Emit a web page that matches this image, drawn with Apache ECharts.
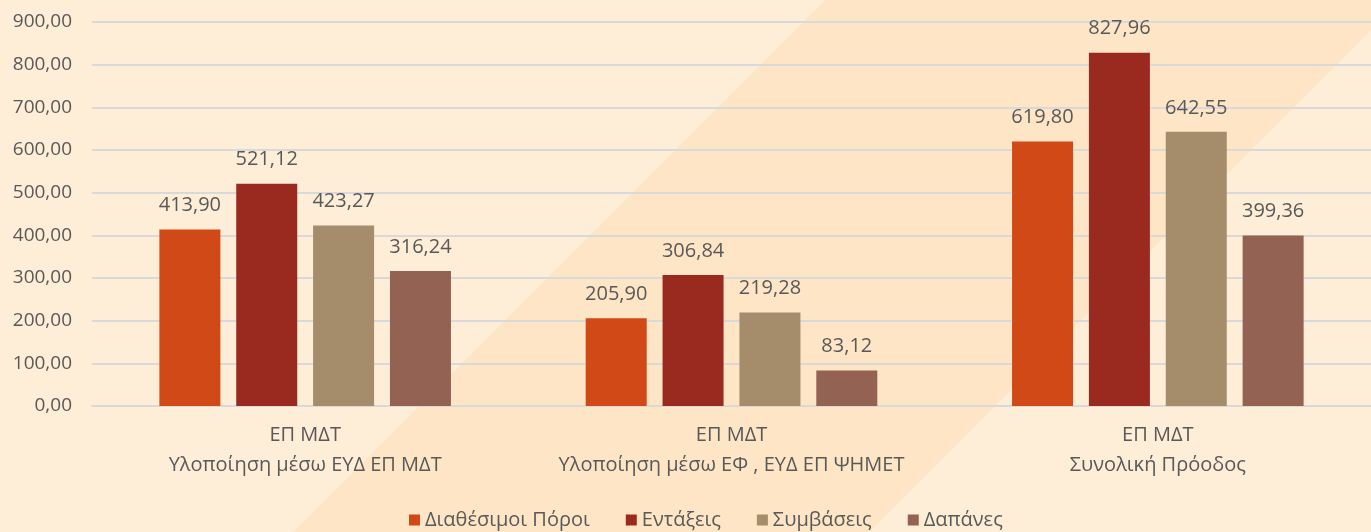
<!DOCTYPE html>
<html>
<head>
<meta charset="utf-8">
<script src="https://cdn.jsdelivr.net/npm/echarts@6/dist/echarts.min.js"></script>
<style>
  html, body { margin: 0; padding: 0; }
  #chart { width: 1371px; height: 532px; }
</style>
</head>
<body>
<div id="chart"></div>
<script>
const categories = [
  'ΕΠ ΜΔΤ\nΥλοποίηση μέσω ΕΥΔ ΕΠ ΜΔΤ',
  'ΕΠ ΜΔΤ\nΥλοποίηση μέσω ΕΦ , ΕΥΔ ΕΠ ΨΗΜΕΤ',
  'ΕΠ ΜΔΤ\nΣυνολική Πρόοδος'
];
const seriesNames = ['Διαθέσιμοι Πόροι', 'Εντάξεις', 'Συμβάσεις', 'Δαπάνες'];
const diathesimoi = [413.90, 205.90, 619.80];
const entaxeis = [521.12, 306.84, 827.96];
const symvaseis = [423.27, 219.28, 642.55];
const dapanes = [316.24, 83.12, 399.36];
const colors = ['#D14917', '#9A2A1F', '#A58C6A', '#946252'];

const fmt = v => v.toFixed(2).replace('.', ',');
const font = '"Open Sans", "Noto Sans", sans-serif';

// diagonal bands in the background, x + y between 826 and 1402 is darker
const light = '#FEEDD7', dark = '#FDE5C6';
const a = 826 / 1903, b = 1402 / 1903;

const chart = echarts.init(document.getElementById('chart'));
const option = {
  backgroundColor: {
    type: 'linear', global: true,
    x: 0, y: 0, x2: 951.5, y2: 951.5,
    colorStops: [
      { offset: 0, color: light },
      { offset: a, color: light },
      { offset: a, color: dark },
      { offset: b, color: dark },
      { offset: b, color: light },
      { offset: 1, color: light }
    ]
  },
  textStyle: { fontFamily: font },
  animation: false,
  grid: { left: 92, top: 22, width: 1284, height: 384 },
  legend: {
    top: 505,
    left: 404,
    itemWidth: 11,
    itemHeight: 11,
    itemGap: 36,
    icon: 'rect',
    textStyle: { color: '#595959', fontSize: 20, fontFamily: font },
    data: seriesNames
  },
  xAxis: {
    type: 'category',
    data: categories,
    axisLine: { lineStyle: { color: '#D9D9D9', width: 2 } },
    axisTick: { show: false },
    axisLabel: {
      interval: 0,
      color: '#595959', fontSize: 20, lineHeight: 30, margin: 14, fontFamily: font
    }
  },
  yAxis: {
    type: 'value',
    min: 0, max: 900, interval: 100,
    axisLine: { show: false },
    axisTick: { show: false },
    splitLine: { lineStyle: { color: '#D9D9D9', width: 2 } },
    axisLabel: {
      color: '#595959', fontSize: 19, margin: 20, fontFamily: font,
      formatter: v => fmt(v)
    }
  },
  series: [diathesimoi, entaxeis, symvaseis, dapanes].map((d, i) => ({
    name: seriesNames[i],
    type: 'bar',
    data: d,
    barWidth: 61,
    barGap: '26%',
    itemStyle: { color: colors[i] },
    label: {
      show: true, position: 'top', distance: 14,
      color: '#595959', fontSize: 20, fontFamily: font,
      formatter: p => fmt(p.value)
    }
  }))
};
chart.setOption(option);
window.addEventListener('resize', () => chart.resize());
</script>
</body>
</html>
